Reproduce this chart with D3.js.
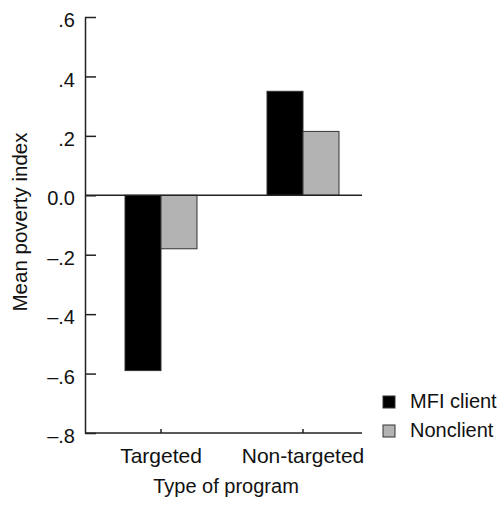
<!DOCTYPE html>
<html>
<head>
<meta charset="utf-8">
<script src="https://cdn.jsdelivr.net/npm/d3@7"></script>
<style>
  html, body { margin: 0; padding: 0; background: #fff; }
  svg { display: block; }
  text { font-family: "Liberation Sans", Arial, sans-serif; fill: #111; }
</style>
</head>
<body>
<svg id="chart" width="502" height="510"></svg>
<script>
const categories = ["Targeted", "Non-targeted"];
const seriesNames = ["MFI client", "Nonclient"];
const mfiClient = [-0.59, 0.35];
const nonclient = [-0.18, 0.215];
const yTickValues = [0.6, 0.4, 0.2, 0, -0.2, -0.4, -0.6, -0.8];
const yTickLabels = [".6", ".4", ".2", "0.0", "\u2013.2", "\u2013.4", "\u2013.6", "\u2013.8"];
const xTitle = "Type of program";
const yTitle = "Mean poverty index";

const seriesValues = [mfiClient, nonclient];
const seriesColors = ["#000000", "#b3b3b3"];

const svg = d3.select("#chart");
const axisLeftX = 85, axisRightX = 362;
const FONT = "'Liberation Sans', Arial, sans-serif";

const y = d3.scaleLinear().domain([-0.8, 0.6]).range([433, 17]);
const x = d3.scaleBand().domain(categories).range([89.5, 374.5])
  .paddingInner(0.493).paddingOuter(0.25);
const xs = d3.scaleBand().domain(seriesNames).range([0, x.bandwidth()]);

const rows = categories.map((c, i) => ({
  cat: c,
  vals: seriesNames.map((s, j) => ({ s, v: seriesValues[j][i], color: seriesColors[j] }))
}));

// bars
const g = svg.append("g");
g.selectAll("g.grp").data(rows).join("g")
  .attr("transform", d => `translate(${x(d.cat)},0)`)
  .selectAll("rect").data(d => d.vals).join("rect")
  .attr("x", d => xs(d.s))
  .attr("width", xs.bandwidth())
  .attr("y", d => y(Math.max(0, d.v)))
  .attr("height", d => Math.abs(y(d.v) - y(0)))
  .attr("fill", d => d.color)
  .attr("stroke", "#333")
  .attr("stroke-width", 1);

// zero line
svg.append("line")
  .attr("x1", axisLeftX).attr("x2", axisRightX)
  .attr("y1", y(0)).attr("y2", y(0))
  .attr("stroke", "#222").attr("stroke-width", 1.5);

// y axis
const yAxis = d3.axisLeft(y)
  .tickValues(yTickValues)
  .tickFormat((d, i) => yTickLabels[i])
  .tickSizeInner(-11).tickSizeOuter(0).tickPadding(10);
const ya = svg.append("g").attr("transform", `translate(${axisLeftX},0)`).call(yAxis);
ya.select(".domain").attr("stroke", "#222").attr("stroke-width", 1.5);
ya.selectAll(".tick line").attr("stroke", "#222").attr("stroke-width", 1.5);
ya.selectAll(".tick text").attr("font-size", 20).attr("dy", "0.48em")
  .attr("font-family", FONT).attr("fill", "#111");

// x axis
const xAxis = d3.axisBottom(x).tickSizeInner(-4).tickSizeOuter(0).tickPadding(15);
const xa = svg.append("g").attr("transform", `translate(0,${y(-0.8)})`).call(xAxis);
xa.select(".domain").remove();
xa.append("line").attr("x1", axisLeftX).attr("x2", axisRightX)
  .attr("stroke", "#222").attr("stroke-width", 1.5);
xa.selectAll(".tick line").attr("stroke", "#222").attr("stroke-width", 1.5);
xa.selectAll(".tick text").attr("font-size", 21)
  .attr("font-family", FONT).attr("fill", "#111");

// titles
svg.append("text").attr("x", 226).attr("y", 493)
  .attr("text-anchor", "middle").attr("font-size", 20).text(xTitle);
svg.append("text").attr("transform", "translate(27,222) rotate(-90)")
  .attr("text-anchor", "middle").attr("font-size", 20.5).text(yTitle);

// legend
const lg = svg.append("g").attr("transform", "translate(383,396)");
const li = lg.selectAll("g").data(seriesNames).join("g")
  .attr("transform", (d, i) => `translate(0,${i * 29})`);
li.append("rect").attr("width", 12).attr("height", 12)
  .attr("fill", (d, i) => seriesColors[i]).attr("stroke", "#333").attr("stroke-width", 1);
li.append("text").attr("x", 27).attr("y", 12).attr("font-size", 20).text(d => d);
</script>
</body>
</html>
